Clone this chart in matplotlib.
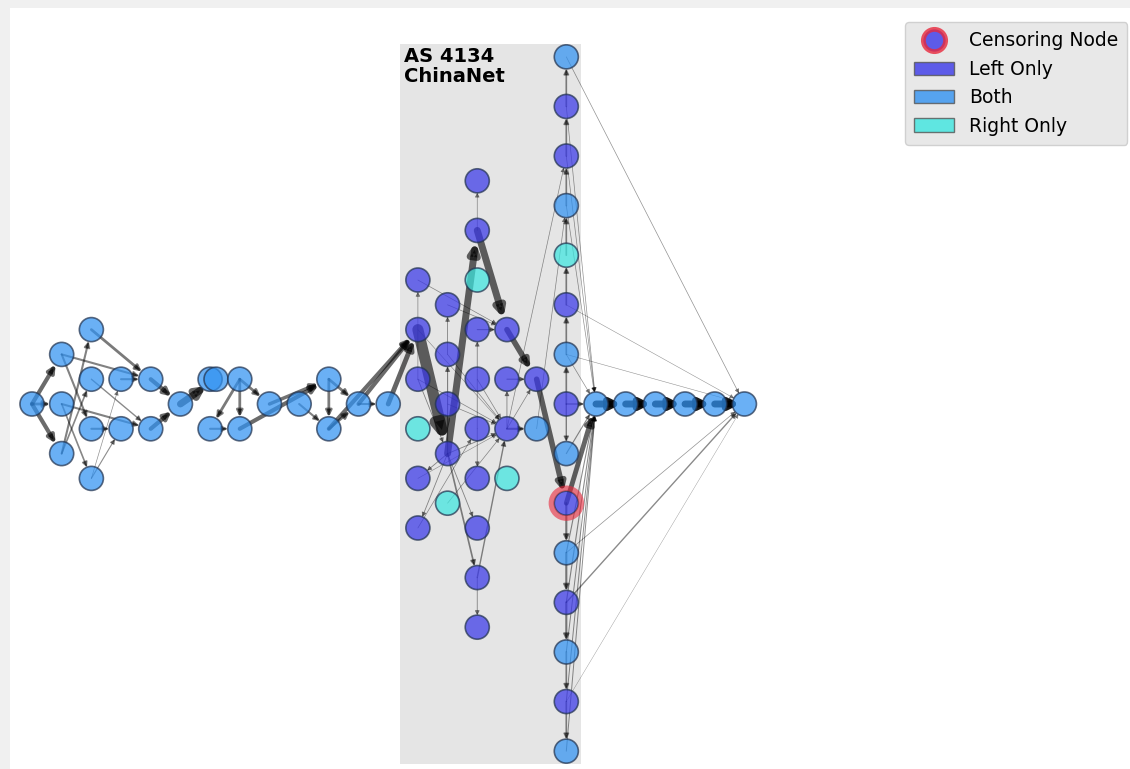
import matplotlib
matplotlib.use("Agg")
import matplotlib.pyplot as plt
from matplotlib.patches import FancyArrowPatch, Patch, Rectangle
from matplotlib.lines import Line2D

# node layout: (column, row, type)  L = left only, B = both, R = right only
left_nodes = [
    (0, 0, 'B'), (1, 2, 'B'), (1, 0, 'B'), (1, -2, 'B'),
    (2, 3, 'B'), (2, 1, 'B'), (2, -1, 'B'), (2, -3, 'B'),
    (3, 1, 'B'), (3, -1, 'B'), (4, 1, 'B'), (4, -1, 'B'),
    (5, 0, 'B'), (6, 1, 'B'), (6.2, 1, 'B'), (6, -1, 'B'),
    (7, 1, 'B'), (7, -1, 'B'), (8, 0, 'B'), (9, 0, 'B'),
    (10, 1, 'B'), (10, -1, 'B'), (11, 0, 'B'), (12, 0, 'B'),
]
as_nodes = [
    (13, 5, 'L'), (13, 3, 'L'), (13, 1, 'L'), (13, -1, 'R'), (13, -3, 'L'), (13, -5, 'L'),
    (14, 4, 'L'), (14, 2, 'L'), (14, 0, 'L'), (14, -2, 'L'), (14, -4, 'R'),
    (15, 9, 'L'), (15, 7, 'L'), (15, 5, 'R'), (15, 3, 'L'), (15, 1, 'L'), (15, -1, 'L'),
    (15, -3, 'L'), (15, -5, 'L'), (15, -7, 'L'), (15, -9, 'L'),
    (16, 3, 'L'), (16, 1, 'L'), (16, -1, 'L'), (16, -3, 'R'),
    (17, 1, 'L'), (17, -1, 'B'),
    (18, 14, 'B'), (18, 12, 'L'), (18, 10, 'L'), (18, 8, 'B'), (18, 6, 'R'),
    (18, 4, 'L'), (18, 2, 'B'), (18, 0, 'L'), (18, -2, 'B'), (18, -4, 'L'),
    (18, -6, 'B'), (18, -8, 'L'), (18, -10, 'B'), (18, -12, 'L'), (18, -14, 'B'),
]
right_nodes = [(19, 0, 'B'), (20, 0, 'B'), (21, 0, 'B'), (22, 0, 'B'), (23, 0, 'B'), (24, 0, 'B')]
censor_node = (18, -4)
as_label = "AS 4134\nChinaNet"

# edges: (from, to, weight)
edges = [
    ((0, 0), (1, 2), 3), ((0, 0), (1, 0), 2), ((0, 0), (1, -2), 3),
    ((1, 2), (4, 1), 1.5), ((1, 2), (2, -1), 1.5),
    ((1, -2), (2, 3), 1.5), ((1, -2), (2, 1), 1.2),
    ((2, 3), (4, 1), 2), ((1, 0), (4, -1), 1.5), ((1, 0), (2, -3), 1.2),
    ((2, 1), (4, -1), 1.0), ((2, -1), (3, -1), 1.5),
    ((2, -3), (3, 1), 0.5), ((2, -3), (3, -1), 0.8), ((3, 1), (4, 1), 1.5),
    ((4, 1), (5, 0), 3), ((4, -1), (5, 0), 3), ((5, 0), (6.2, 1), 5),
    ((7, 1), (6, -1), 2), ((7, 1), (7, -1), 2), ((7, 1), (8, 0), 2),
    ((6, -1), (7, -1), 1.5), ((7, -1), (10, 1), 3), ((8, 0), (10, 1), 2.5),
    ((9, 0), (10, -1), 1.5), ((10, 1), (10, -1), 2), ((10, 1), (11, 0), 2),
    ((10, -1), (11, 0), 2), ((11, 0), (12, 0), 1.5),
    ((10, -1), (13, 3), 3), ((11, 0), (13, 3), 3), ((12, 0), (13, 3), 3.5),
    ((13, 3), (14, -2), 8), ((14, -2), (15, 7), 5), ((15, 7), (16, 3), 5),
    ((16, 3), (17, 1), 4), ((17, 1), (18, -4), 4), ((18, -4), (19, 0), 3.5),
    ((19, 0), (20, 0), 5), ((20, 0), (21, 0), 5), ((21, 0), (22, 0), 5),
    ((22, 0), (23, 0), 5), ((23, 0), (24, 0), 5),
    ((15, 7), (15, 9), 0.5), ((13, 5), (16, 3), 0.5), ((14, 4), (16, 3), 0.5),
    ((13, 1), (13, 5), 0.5), ((14, 2), (14, 4), 0.6), ((14, -2), (14, 2), 0.8),
    ((15, 3), (16, 3), 0.8), ((15, -1), (15, 3), 0.6), ((16, -1), (16, 1), 0.6),
    ((16, 1), (17, 1), 0.8), ((16, -1), (17, 1), 0.5), ((16, -1), (17, -1), 1.5),
    ((13, 1), (16, -1), 0.5), ((14, 2), (16, -1), 0.5), ((15, 1), (16, -1), 0.5),
    ((14, 0), (16, -1), 0.5), ((13, 3), (16, -1), 0.4), ((14, -2), (16, -1), 0.6),
    ((13, -3), (16, -1), 0.4), ((15, -7), (16, -1), 1.0), ((14, -4), (16, -1), 0.5),
    ((14, -2), (13, -3), 0.6), ((14, -2), (13, -5), 0.6), ((14, -2), (15, -5), 0.6),
    ((14, -2), (15, -7), 1.2), ((15, -7), (15, -9), 0.6), ((15, -1), (15, -3), 0.6),
    ((13, -5), (15, -1), 0.5), ((13, 1), (14, -2), 0.6),
    ((16, -1), (18, 10), 0.5), ((17, -1), (18, 8), 0.5),
    ((18, 0), (18, 2), 1.2), ((18, 2), (18, 4), 1.2), ((18, 4), (18, 6), 1.2),
    ((18, 6), (18, 8), 1.2), ((18, 8), (18, 10), 1.2), ((18, 10), (18, 12), 1.2),
    ((18, 12), (18, 14), 1.2), ((18, 0), (18, -2), 1.0), ((18, -4), (18, -6), 1.5),
    ((18, -6), (18, -8), 1.5), ((18, -8), (18, -10), 1.5), ((18, -10), (18, -12), 1.2),
    ((18, -12), (18, -14), 1.2), ((18, 0), (19, 0), 1.0),
    ((18, 12), (19, 0), 0.5), ((18, 10), (19, 0), 0.5), ((18, 8), (19, 0), 0.5),
    ((18, 2), (19, 0), 0.5), ((18, -2), (19, 0), 0.8), ((18, -6), (19, 0), 0.8),
    ((18, -8), (19, 0), 0.8), ((18, -10), (19, 0), 0.7), ((18, -12), (19, 0), 0.7),
    ((18, -14), (19, 0), 0.7),
    ((18, 14), (24, 0), 0.5), ((18, 4), (24, 0), 0.4), ((18, 2), (24, 0), 0.4),
    ((18, -6), (24, 0), 0.5), ((18, -8), (24, 0), 1.0), ((18, -12), (24, 0), 0.3),
]

colors = {'L': '#3a38e8', 'B': '#3192f2', 'R': '#3de6e0'}
type_names = [('L', 'Left Only'), ('B', 'Both'), ('R', 'Right Only')]

fig = plt.figure(figsize=(11.3, 7.69), dpi=100, facecolor='#f0f0f0')
ax = fig.add_axes([10 / 1130, 0, 1120 / 1130, 761 / 769])
ax.set_facecolor('white')
ax.set_xlim(-0.741, 36.99)
ax.set_ylim(-14.72, 15.97)
ax.set_xticks([])
ax.set_yticks([])
for s in ax.spines.values():
    s.set_visible(False)

# AS band
cols = [n[0] for n in as_nodes]
rows = [n[1] for n in as_nodes]
x0, x1 = min(cols) - 0.6, max(cols) + 0.5
y0, y1 = min(rows) - 0.52, max(rows) + 0.52
ax.add_patch(Rectangle((x0, y0), x1 - x0, y1 - y0, facecolor='#e5e5e5',
                       edgecolor='none', zorder=0))
ax.text(x0 + 0.13, y1 - 0.12, as_label, fontsize=14, fontweight='bold',
        ha='left', va='top', zorder=5, linespacing=1.05)

for a, b, w in edges:
    shrink = 8.5
    if w >= 5 and a[1] == b[1]:
        # chain edges: heavy dark bars running into the next node
        alpha = 0.9
        shrink = 3
    else:
        alpha = min(0.6, 0.4 + 0.06 * w)
    arr = FancyArrowPatch(a, b, arrowstyle='-|>', mutation_scale=6 + 1.4 * w,
                          lw=w, color='black', alpha=alpha,
                          shrinkA=0, shrinkB=shrink, zorder=1)
    ax.add_patch(arr)

all_nodes = left_nodes + as_nodes + right_nodes
ax.scatter([n[0] for n in all_nodes], [n[1] for n in all_nodes],
           s=300, c=[colors[n[2]] for n in all_nodes], alpha=0.72,
           edgecolors='#22334f', linewidths=1.2, zorder=2)
ax.scatter([censor_node[0]], [censor_node[1]], s=460, facecolors='none',
           edgecolors='#e8283c', linewidths=4, alpha=0.6, zorder=3)

handles = [Line2D([], [], ls='none', marker='o', markersize=16,
                  markerfacecolor=colors['L'], markeredgecolor='#e8283c',
                  markeredgewidth=3.5, alpha=0.8)]
labels = ['Censoring Node']
for t, name in type_names:
    handles.append(Patch(facecolor=colors[t], edgecolor='#555555', alpha=0.8))
    labels.append(name)
leg = fig.legend(handles, labels, loc='upper left',
                 bbox_to_anchor=(905 / 1130, 1 - 22 / 769), borderaxespad=0,
                 fontsize=13.5, handlelength=2.1, facecolor='#e8e8e8',
                 edgecolor='#d0d0d0', framealpha=1, fancybox=True,
                 borderpad=0.5)

fig.savefig('out.png', dpi=100, facecolor=fig.get_facecolor())
